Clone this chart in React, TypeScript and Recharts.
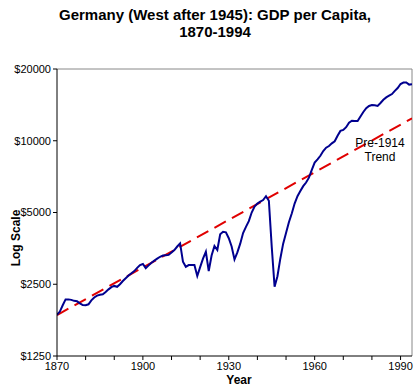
import { LineChart, Line, XAxis, YAxis, ReferenceLine } from 'recharts';

// GDP per capita
const years = [
  1870, 1871, 1872, 1873, 1874, 1875, 1876, 1877, 1878, 1879,
  1880, 1881, 1882, 1883, 1884, 1885, 1886, 1887, 1888, 1889,
  1890, 1891, 1892, 1893, 1894, 1895, 1896, 1897, 1898, 1899,
  1900, 1901, 1902, 1903, 1904, 1905, 1906, 1907, 1908, 1909,
  1910, 1911, 1912, 1913, 1914, 1915, 1916, 1917, 1918, 1919,
  1920, 1921, 1922, 1923, 1924, 1925, 1926, 1927, 1928, 1929,
  1930, 1931, 1932, 1933, 1934, 1935, 1936, 1937, 1938, 1939,
  1940, 1941, 1942, 1943, 1944, 1945, 1946, 1947, 1948, 1949,
  1950, 1951, 1952, 1953, 1954, 1955, 1956, 1957, 1958, 1959,
  1960, 1961, 1962, 1963, 1964, 1965, 1966, 1967, 1968, 1969,
  1970, 1971, 1972, 1973, 1974, 1975, 1976, 1977, 1978, 1979,
  1980, 1981, 1982, 1983, 1984, 1985, 1986, 1987, 1988, 1989,
  1990, 1991, 1992, 1993, 1994,
];

const gdp = [
  1860, 1920, 2040, 2160, 2160, 2150, 2130, 2120, 2080, 2045,
  2040, 2060, 2140, 2200, 2240, 2260, 2270, 2320, 2380, 2430,
  2460, 2440, 2500, 2580, 2650, 2720, 2780, 2840, 2930, 3010,
  3040, 2920, 3000, 3080, 3140, 3200, 3260, 3300, 3310, 3320,
  3400, 3480, 3600, 3711, 3110, 2960, 3010, 3010, 3010, 2707,
  2950, 3200, 3420, 2840, 3300, 3620, 3480, 4050, 4150, 4130,
  3900, 3600, 3180, 3400, 3700, 4100, 4350, 4600, 5000, 5300,
  5450, 5560, 5640, 5850, 5600, 3600, 2440, 2700, 3200, 3700,
  4100, 4550, 4950, 5450, 5850, 6150, 6450, 6680, 7000, 7550,
  8100, 8350, 8650, 9050, 9350, 9500, 9750, 9950, 10500, 11000,
  11100, 11400, 11900, 12140, 12100, 12100, 12650, 13200, 13700, 14000,
  14120, 14100, 14000, 14400, 14850, 15200, 15450, 15700, 16200, 16650,
  17300, 17550, 17550, 17200, 17250,
];

// pre-1914 trend, a straight line on the log scale
const trendYears = [1870, 1994];
const trendValues = [1857, 12420];

const yTicks = [1250, 2500, 5000, 10000, 20000];
const xTicks = [1870, 1880, 1890, 1900, 1910, 1920, 1930, 1940, 1950, 1960, 1970, 1980, 1990];
const xLabels = [1870, 1900, 1930, 1960, 1990];

const series = years.map((year, i) => ({ year, gdp: gdp[i] }));
const trend = trendYears.map((year, i) => ({ year, trend: trendValues[i] }));

const font = '"Liberation Sans", Arial, sans-serif';
const tickStyle = { fontSize: 11, fill: '#000', fontFamily: font };

export default function App() {
  return (
    <div style={{ position: 'absolute', left: 0, top: 0, width: 419, height: 392, background: '#fff' }}>
      <LineChart width={419} height={392} margin={{ top: 69, right: 7, left: 0, bottom: 0 }}>
        <XAxis
          dataKey="year"
          type="number"
          domain={[1870, 1994]}
          ticks={xTicks}
          tickFormatter={(v: number) => (xLabels.includes(v) ? String(v) : '')}
          tick={tickStyle}
          tickSize={4}
          stroke="#000"
          height={36}
          allowDataOverflow
        />
        <YAxis
          scale="log"
          domain={[1250, 20000]}
          ticks={yTicks}
          tickFormatter={(v: number) => `$${v}`}
          tick={tickStyle}
          tickSize={4}
          stroke="#000"
          width={57}
          allowDataOverflow
        />
        <ReferenceLine y={20000} stroke="#888" strokeWidth={1} />
        <ReferenceLine x={1994} stroke="#888" strokeWidth={1} />
        <Line
          data={trend}
          dataKey="trend"
          type="linear"
          stroke="#e00000"
          strokeWidth={2}
          strokeDasharray="13 7"
          dot={false}
          isAnimationActive={false}
        />
        <Line
          data={series}
          dataKey="gdp"
          type="linear"
          stroke="#00008f"
          strokeWidth={2}
          dot={false}
          isAnimationActive={false}
        />
      </LineChart>
      <div
        style={{
          position: 'absolute',
          left: 0,
          top: 6,
          width: 430,
          textAlign: 'center',
          fontFamily: font,
          fontWeight: 'bold',
          fontSize: 15,
          lineHeight: '17px',
        }}
      >
        Germany (West after 1945): GDP per Capita,
        <br />
        1870-1994
      </div>
      <div
        style={{
          position: 'absolute',
          left: 350,
          top: 136,
          width: 60,
          textAlign: 'center',
          fontFamily: font,
          fontSize: 12,
          lineHeight: '14px',
        }}
      >
        Pre-1914
        <br />
        Trend
      </div>
      <div
        style={{
          position: 'absolute',
          left: 16,
          top: 238,
          transform: 'translate(-50%, -50%) rotate(-90deg)',
          fontFamily: font,
          fontWeight: 'bold',
          fontSize: 12,
          whiteSpace: 'nowrap',
        }}
      >
        Log Scale
      </div>
      <div
        style={{
          position: 'absolute',
          left: 239,
          top: 380,
          transform: 'translate(-50%, -50%)',
          fontFamily: font,
          fontWeight: 'bold',
          fontSize: 12,
        }}
      >
        Year
      </div>
    </div>
  );
}
